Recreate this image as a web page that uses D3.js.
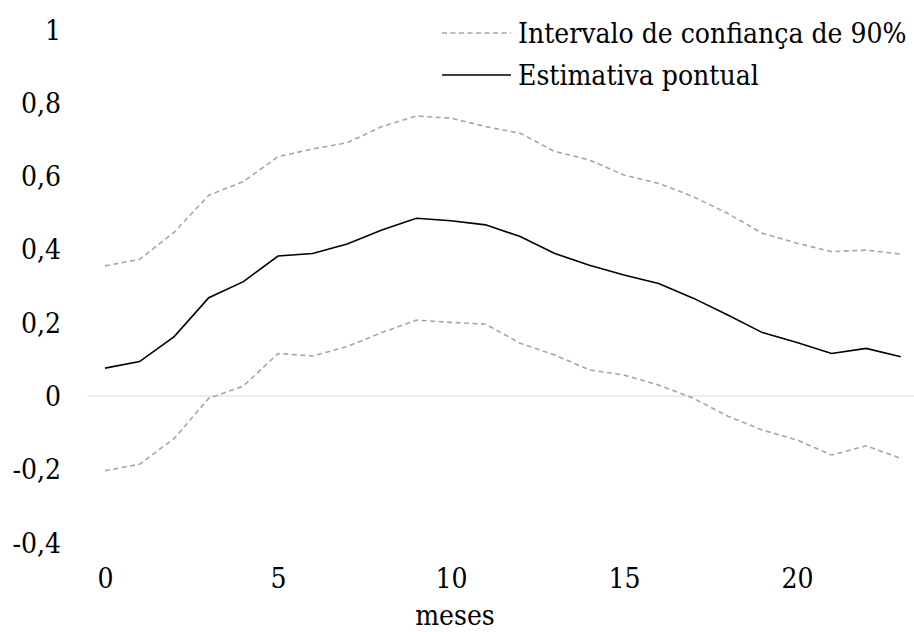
<!DOCTYPE html>
<html>
<head>
<meta charset="utf-8">
<script src="https://cdn.jsdelivr.net/npm/d3@7"></script>
<style>
  html, body { margin: 0; padding: 0; background: #fff; }
  svg { display: block; }
</style>
</head>
<body>
<svg id="chart" width="914" height="632"></svg>
<script>
// Months after the shock
const months = d3.range(0, 24);
// Point estimate of the response
const estimate = [0.076, 0.094, 0.162, 0.268, 0.312, 0.382, 0.389, 0.415, 0.453, 0.485,
                  0.478, 0.467, 0.435, 0.389, 0.357, 0.330, 0.307, 0.267, 0.221, 0.173,
                  0.146, 0.116, 0.130, 0.107];
// 90% confidence band
const upper = [0.355, 0.373, 0.447, 0.548, 0.585, 0.653, 0.674, 0.691, 0.735, 0.764,
               0.758, 0.735, 0.717, 0.667, 0.644, 0.603, 0.580, 0.544, 0.498, 0.444,
               0.417, 0.394, 0.398, 0.387];
const lower = [-0.204, -0.186, -0.116, -0.006, 0.027, 0.116, 0.109, 0.135, 0.173, 0.207,
               0.201, 0.196, 0.144, 0.112, 0.071, 0.057, 0.030, -0.006, -0.055, -0.093,
               -0.120, -0.161, -0.136, -0.170];
const yTicks = [-0.4, -0.2, 0, 0.2, 0.4, 0.6, 0.8, 1];
const xTicks = [0, 5, 10, 15, 20];
const legendLabels = ["Intervalo de confiança de 90%", "Estimativa pontual"];

const FONT = "'DejaVu Serif Condensed', 'DejaVu Serif', serif";
const FONT_SIZE = 28;

const svg = d3.select("#chart");
const step = 34.6;
const x = d3.scaleLinear().domain([0, 23]).range([105, 105 + 23 * step]);
const y = d3.scaleLinear().domain([0, 1]).range([396, 29.5]);

// Decimal comma, plain hyphen for negatives
const fmt = v => (Math.abs(v) < 1e-9 ? "0" : String(+v.toFixed(1)).replace(".", ","));

// Zero reference line across the plot area
svg.append("line")
  .attr("x1", x(-0.5)).attr("x2", x(23.5))
  .attr("y1", y(0)).attr("y2", y(0))
  .attr("stroke", "#d9d9d9").attr("stroke-width", 1);

// Y axis labels, no axis line
const yAxis = d3.axisLeft(y).tickValues(yTicks).tickSize(0).tickPadding(0).tickFormat(fmt);
const gy = svg.append("g").attr("transform", "translate(61,0)").call(yAxis);
gy.style("font-family", FONT).attr("font-size", FONT_SIZE);
gy.select(".domain").remove();
gy.selectAll("text").attr("dy", "0.34em");

// X axis labels, no axis line
const xAxis = d3.axisBottom(x).tickValues(xTicks).tickSize(0).tickPadding(0).tickFormat(d3.format("d"));
const gx = svg.append("g").attr("transform", "translate(0,568)").call(xAxis);
gx.style("font-family", FONT).attr("font-size", FONT_SIZE);
gx.select(".domain").remove();
gx.selectAll("text").attr("dy", "0.71em");

svg.append("text")
  .attr("x", 455).attr("y", 625)
  .attr("text-anchor", "middle")
  .style("font-family", FONT)
  .attr("font-size", FONT_SIZE)
  .text("meses");

const line = d3.line().x((d, i) => x(months[i])).y(d => y(d));

// Confidence band bounds
[upper, lower].forEach(s => {
  svg.append("path").datum(s)
    .attr("d", line)
    .attr("fill", "none")
    .attr("stroke", "#a6a6a6")
    .attr("stroke-width", 1.6)
    .attr("stroke-dasharray", "5,3.5");
});

// Point estimate
svg.append("path").datum(estimate)
  .attr("d", line)
  .attr("fill", "none")
  .attr("stroke", "#000")
  .attr("stroke-width", 1.6);

// Legend
const legend = svg.append("g").style("font-family", FONT).attr("font-size", FONT_SIZE);
const legendRows = [
  { label: legendLabels[0], y: 33, dash: "5,3.5", color: "#a6a6a6" },
  { label: legendLabels[1], y: 75, dash: null, color: "#000" }
];
legendRows.forEach(r => {
  legend.append("line")
    .attr("x1", 442).attr("x2", 511)
    .attr("y1", r.y).attr("y2", r.y)
    .attr("stroke", r.color).attr("stroke-width", 1.6)
    .attr("stroke-dasharray", r.dash);
  legend.append("text")
    .attr("x", 518).attr("y", r.y + 10)
    .text(r.label);
});
</script>
</body>
</html>
